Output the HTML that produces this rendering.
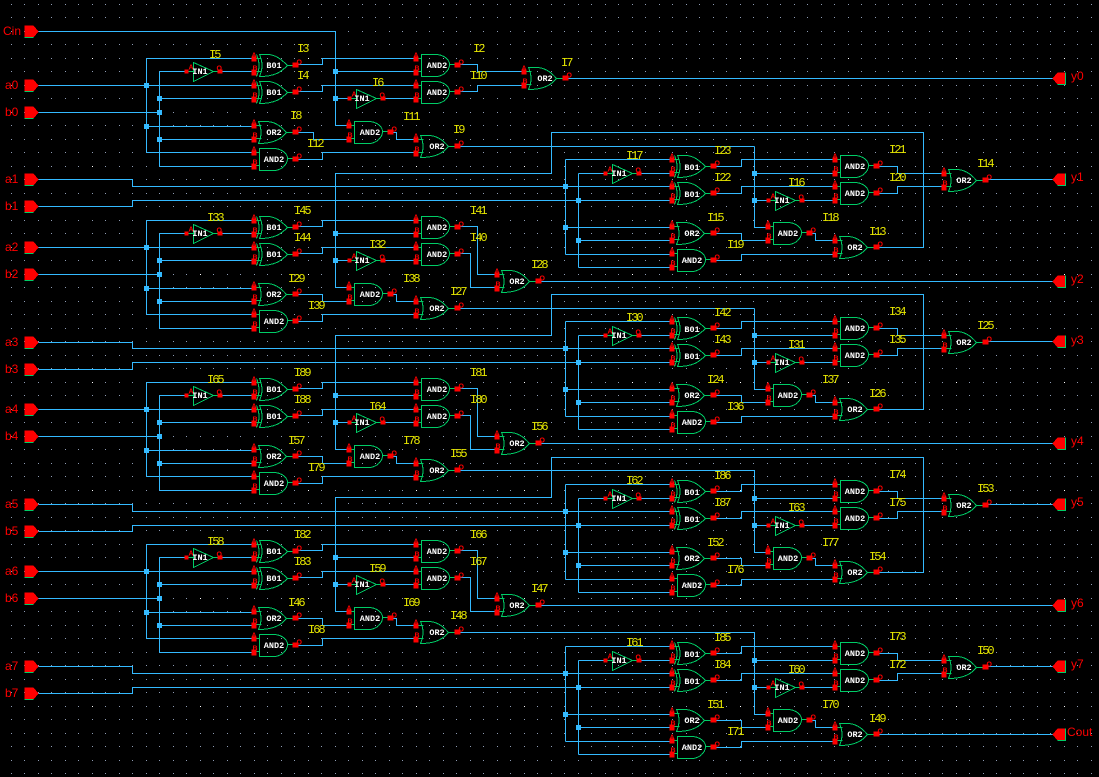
<!DOCTYPE html>
<html><head><meta charset="utf-8"><title>8-bit adder schematic</title>
<style>
html,body{margin:0;padding:0;background:#000;width:1099px;height:777px;overflow:hidden}
svg{display:block;shape-rendering:crispEdges}
.w{fill:none;stroke:#34baff;stroke-width:1}
.s{fill:none;stroke:#00cc66;stroke-width:1}
.j{fill:#34baff;stroke:#34baff;stroke-width:1}
.r{fill:#f00}
.p{font:bold 7px "Liberation Sans",sans-serif;fill:#f00}
.n{font:12px "Liberation Sans",sans-serif;fill:#f00}
.g text{font:bold 8.5px "Liberation Mono",monospace;fill:#fff;text-anchor:middle}
.i text{font:12px "Liberation Mono",monospace;fill:#e6e600;letter-spacing:-2px}
</style></head><body>
<svg width="1099" height="777" viewBox="0 0 1099 777" xmlns="http://www.w3.org/2000/svg">
<defs>
<pattern id="d1" patternUnits="userSpaceOnUse" x="11" y="4" width="27" height="27"><rect width="1" height="1" fill="#8f9cb4"/><rect x="13" width="1" height="1" fill="#8f9cb4"/><rect y="13" width="1" height="1" fill="#8f9cb4"/><rect x="13" y="13" width="1" height="1" fill="#8f9cb4"/></pattern>
<pattern id="d2" patternUnits="userSpaceOnUse" x="92" y="58" width="108" height="108"><rect width="1" height="1" fill="#fff"/></pattern>
<g id="pins"><rect class="r" x="-2" y="-9" width="5" height="5"/><rect class="r" x="-2" y="4" width="5" height="6"/><rect class="r" x="39" y="-3" width="6" height="5"/><text class="p" x="-2" y="-8">A</text><text class="p" x="-1" y="5">B</text><text class="p" x="43" y="-1">O</text></g>
<g id="and"><path class="s" d="M6-11H20C28-11 34-6 34-1C34 5 28 11 20 11H6ZM0-7H6M0 6H6M34-1H40"/><use href="#pins"/></g>
<g id="or"><path class="s" d="M5-11H13C21-11 28-6 33 0C28 6 21 11 5 11Q10 0 5-11ZM0-7H8M0 6H8M33 0H40"/><use href="#pins"/></g>
<g id="xo"><path class="s" d="M6-11H14C22-11 28-6 34 0C28 6 22 11 6 11Q11 0 6-11ZM3-11Q8 0 3 11M0-7H8M0 6H8M34 0H40"/><use href="#pins"/></g>
<g id="in"><path class="s" d="M7-9V10L27 0ZM0 0H7M27 0H33"/><rect class="r" x="-2" y="-2" width="4" height="4"/><rect class="r" x="31" y="-2" width="5" height="4"/><text class="p" x="2" y="-2">A</text><text class="p" x="30" y="-1">O</text></g>
<g id="pi"><path class="r" d="M24-6H33L38 0L33 6H24Z"/><path class="s" d="M24 6H33"/></g>
<g id="po"><path class="r" d="M1065-6H1057L1052 0L1057 6H1065Z"/><path class="s" d="M1065-6V6H1057"/></g>
<g id="L">
<path class="w" d="M146 58V152M159 71V166M146 58H253M146 126H253M146 152H253M159 71H186M219 71H253M159 98H253M159 139H253M159 166H253M38 85H253M38 112H159M295 64H322V58H415M295 91H322V85H415M295 159H322V152H415M335 71H415M335 98H349M381 98H415M389 132H396V139H415"/>
<path class="j" d="M144 83h4v4h-4zM144 124h4v4h-4zM157 96h4v4h-4zM157 110h4v4h-4zM157 137h4v4h-4zM333 69h4v4h-4zM333 96h4v4h-4z"/>
<use href="#xo" x="253" y="65"/><use href="#xo" x="253" y="92"/><use href="#or" x="253" y="132"/><use href="#and" x="253" y="159"/><use href="#in" x="186" y="71"/><use href="#and" x="415" y="65"/><use href="#and" x="415" y="92"/><use href="#in" x="349" y="98"/><use href="#and" x="348" y="132"/><use href="#or" x="415" y="146"/>
</g>
<g id="R">
<path class="w" d="M565 159V254M578 173V267M565 159H671M565 227H671M565 254H671M578 173H605M638 173H671M578 240H671M578 267H671M714 166H741V159H834M714 193H741V186H834M714 233H741V240H767M714 260H741V254H834M754 146V227H767M754 173H834M754 200H768M801 200H834M808 233H815V240H834M876 166H897V173H943M876 193H897V186H943M984 179H1052"/>
<path class="j" d="M563 184h4v4h-4zM563 225h4v4h-4zM576 198h4v4h-4zM576 238h4v4h-4zM752 171h4v4h-4zM752 198h4v4h-4z"/>
<use href="#xo" x="671" y="166"/><use href="#xo" x="671" y="193"/><use href="#in" x="605" y="173"/><use href="#or" x="671" y="233"/><use href="#and" x="671" y="260"/><use href="#and" x="834" y="166"/><use href="#and" x="834" y="193"/><use href="#in" x="768" y="200"/><use href="#and" x="767" y="233"/><use href="#or" x="834" y="247"/><use href="#or" x="943" y="180"/>
</g>
</defs>
<rect width="1099" height="777" fill="#000"/>
<rect width="1099" height="777" fill="url(#d1)"/>
<rect width="1099" height="777" fill="url(#d2)"/>
<g transform="translate(.5 .5)">
<path class="w" d="M38 31H335V125H348M295 132H313V139H348M295 294H322V301H348M295 456H322V463H348M295 618H322V625H348M877 247H923V132H551V173H335V287H348M877 409H923V294H551V335H335V449H348M877 572H923V457H551V497H335V611H348M457 146H754M457 308H754M457 470H754V471M457 632H754V633M458 64H477V71H523M458 91H477V85H523M565 78H1052M458 226H477V274H496M458 253H470V287H496M538 281H1052M458 388H477V436H496M458 415H470V449H496M538 443H1052M458 550H477V598H496M458 577H470V611H496M538 605H1052M38 179H132V186H671M38 206H132V200H671M38 342H132V348H671M38 369H132V362H671M38 504H132V511H671M38 531H132V525H671M38 666H132V673H671M38 693H132V687H671M877 734H1052"/>
<use href="#L"/><use href="#L" y="162"/><use href="#L" y="324"/><use href="#L" y="486"/>
<use href="#R"/><use href="#R" y="162"/><use href="#R" y="325"/><use href="#R" y="487"/>
<use href="#or" x="523" y="78"/><use href="#or" x="496" y="281"/><use href="#or" x="496" y="443"/><use href="#or" x="496" y="605"/>
<use href="#pi" y="31"/><use href="#pi" y="85"/><use href="#pi" y="112"/><use href="#pi" y="179"/><use href="#pi" y="206"/><use href="#pi" y="247"/><use href="#pi" y="274"/><use href="#pi" y="342"/><use href="#pi" y="369"/><use href="#pi" y="409"/><use href="#pi" y="436"/><use href="#pi" y="504"/><use href="#pi" y="531"/><use href="#pi" y="571"/><use href="#pi" y="598"/><use href="#pi" y="666"/><use href="#pi" y="693"/>
<use href="#po" y="78"/><use href="#po" y="179"/><use href="#po" y="281"/><use href="#po" y="341"/><use href="#po" y="443"/><use href="#po" y="504"/><use href="#po" y="605"/><use href="#po" y="666"/><use href="#po" y="734"/>
</g>
<g class="n">
<text class="n" x="3" y="35">Cin</text><text class="n" x="5" y="89">a0</text><text class="n" x="5" y="116">b0</text><text class="n" x="5" y="183">a1</text><text class="n" x="5" y="210">b1</text><text class="n" x="5" y="251">a2</text><text class="n" x="5" y="278">b2</text><text class="n" x="5" y="346">a3</text><text class="n" x="5" y="373">b3</text><text class="n" x="5" y="413">a4</text><text class="n" x="5" y="440">b4</text><text class="n" x="5" y="508">a5</text><text class="n" x="5" y="535">b5</text><text class="n" x="5" y="575">a6</text><text class="n" x="5" y="602">b6</text><text class="n" x="5" y="670">a7</text><text class="n" x="5" y="697">b7</text>
<text class="n" x="1071" y="80">y0</text><text class="n" x="1071" y="181">y1</text><text class="n" x="1071" y="283">y2</text><text class="n" x="1071" y="344">y3</text><text class="n" x="1071" y="445">y4</text><text class="n" x="1071" y="506">y5</text><text class="n" x="1071" y="607">y6</text><text class="n" x="1071" y="668">y7</text><text class="n" x="1067" y="736">Cout</text>
</g>
<g class="g">
<text x="274" y="68">B01</text><text x="274" y="95">B01</text><text x="200" y="74">IN1</text><text x="274" y="135">OR2</text><text x="274" y="162">AND2</text><text x="437" y="68">AND2</text><text x="437" y="95">AND2</text><text x="362" y="101">IN1</text><text x="370" y="135">AND2</text><text x="437" y="149">OR2</text><text x="545" y="81">OR2</text>
<text x="692" y="170">B01</text><text x="692" y="197">B01</text><text x="619" y="176">IN1</text><text x="692" y="236">OR2</text><text x="692" y="263">AND2</text><text x="855" y="169">AND2</text><text x="855" y="196">AND2</text><text x="782" y="203">IN1</text><text x="788" y="236">AND2</text><text x="855" y="250">OR2</text><text x="964" y="183">OR2</text>
<text x="274" y="230">B01</text><text x="274" y="257">B01</text><text x="200" y="236">IN1</text><text x="274" y="297">OR2</text><text x="274" y="324">AND2</text><text x="437" y="230">AND2</text><text x="437" y="257">AND2</text><text x="362" y="263">IN1</text><text x="370" y="297">AND2</text><text x="437" y="311">OR2</text><text x="517" y="284">OR2</text>
<text x="692" y="332">B01</text><text x="692" y="359">B01</text><text x="619" y="338">IN1</text><text x="692" y="398">OR2</text><text x="692" y="425">AND2</text><text x="855" y="331">AND2</text><text x="855" y="358">AND2</text><text x="782" y="365">IN1</text><text x="788" y="398">AND2</text><text x="855" y="412">OR2</text><text x="964" y="345">OR2</text>
<text x="274" y="392">B01</text><text x="274" y="419">B01</text><text x="200" y="398">IN1</text><text x="274" y="459">OR2</text><text x="274" y="486">AND2</text><text x="437" y="392">AND2</text><text x="437" y="419">AND2</text><text x="362" y="425">IN1</text><text x="370" y="459">AND2</text><text x="437" y="473">OR2</text><text x="517" y="446">OR2</text>
<text x="692" y="495">B01</text><text x="692" y="522">B01</text><text x="619" y="501">IN1</text><text x="692" y="561">OR2</text><text x="692" y="588">AND2</text><text x="855" y="494">AND2</text><text x="855" y="521">AND2</text><text x="782" y="528">IN1</text><text x="788" y="561">AND2</text><text x="855" y="575">OR2</text><text x="964" y="508">OR2</text>
<text x="274" y="554">B01</text><text x="274" y="581">B01</text><text x="200" y="560">IN1</text><text x="274" y="621">OR2</text><text x="274" y="648">AND2</text><text x="437" y="554">AND2</text><text x="437" y="581">AND2</text><text x="362" y="587">IN1</text><text x="370" y="621">AND2</text><text x="437" y="635">OR2</text><text x="517" y="608">OR2</text>
<text x="692" y="657">B01</text><text x="692" y="684">B01</text><text x="619" y="663">IN1</text><text x="692" y="723">OR2</text><text x="692" y="750">AND2</text><text x="855" y="656">AND2</text><text x="855" y="683">AND2</text><text x="782" y="690">IN1</text><text x="788" y="723">AND2</text><text x="855" y="737">OR2</text><text x="964" y="670">OR2</text>
</g>
<g class="i">
<text x="209" y="58">I5</text><text x="297" y="52">I3</text><text x="297" y="79">I4</text><text x="290" y="119">I8</text><text x="307" y="147">I12</text><text x="473" y="52">I2</text><text x="470" y="79">I10</text><text x="372" y="86">I6</text><text x="403" y="120">I11</text><text x="453" y="133">I9</text><text x="561" y="66">I7</text>
<text x="626" y="159">I17</text><text x="714" y="154">I23</text><text x="714" y="181">I22</text><text x="707" y="221">I15</text><text x="727" y="248">I19</text><text x="889" y="153">I21</text><text x="889" y="181">I20</text><text x="788" y="186">I16</text><text x="822" y="221">I18</text><text x="869" y="235">I13</text><text x="977" y="167">I14</text>
<text x="207" y="221">I33</text><text x="294" y="214">I45</text><text x="294" y="241">I44</text><text x="288" y="282">I29</text><text x="308" y="309">I39</text><text x="470" y="214">I41</text><text x="470" y="241">I40</text><text x="369" y="248">I32</text><text x="403" y="282">I38</text><text x="450" y="295">I27</text><text x="531" y="268">I28</text>
<text x="626" y="321">I30</text><text x="714" y="316">I42</text><text x="714" y="343">I43</text><text x="707" y="383">I24</text><text x="727" y="410">I36</text><text x="889" y="315">I34</text><text x="889" y="343">I35</text><text x="788" y="348">I31</text><text x="822" y="383">I37</text><text x="869" y="397">I26</text><text x="977" y="329">I25</text>
<text x="207" y="383">I65</text><text x="294" y="376">I89</text><text x="294" y="403">I88</text><text x="288" y="444">I57</text><text x="308" y="471">I79</text><text x="470" y="376">I81</text><text x="470" y="403">I80</text><text x="369" y="410">I64</text><text x="403" y="444">I78</text><text x="450" y="457">I55</text><text x="531" y="430">I56</text>
<text x="626" y="484">I62</text><text x="714" y="479">I86</text><text x="714" y="506">I87</text><text x="707" y="546">I52</text><text x="727" y="573">I76</text><text x="889" y="478">I74</text><text x="889" y="506">I75</text><text x="788" y="511">I63</text><text x="822" y="546">I77</text><text x="869" y="560">I54</text><text x="977" y="492">I53</text>
<text x="207" y="545">I58</text><text x="294" y="538">I82</text><text x="294" y="565">I83</text><text x="288" y="606">I46</text><text x="308" y="633">I68</text><text x="470" y="538">I66</text><text x="470" y="565">I67</text><text x="369" y="572">I59</text><text x="403" y="606">I69</text><text x="450" y="619">I48</text><text x="531" y="592">I47</text>
<text x="626" y="646">I61</text><text x="714" y="641">I85</text><text x="714" y="668">I84</text><text x="707" y="708">I51</text><text x="727" y="735">I71</text><text x="889" y="640">I73</text><text x="889" y="668">I72</text><text x="788" y="673">I60</text><text x="822" y="708">I70</text><text x="869" y="722">I49</text><text x="977" y="654">I50</text>
</g>
</svg>
</body></html>
